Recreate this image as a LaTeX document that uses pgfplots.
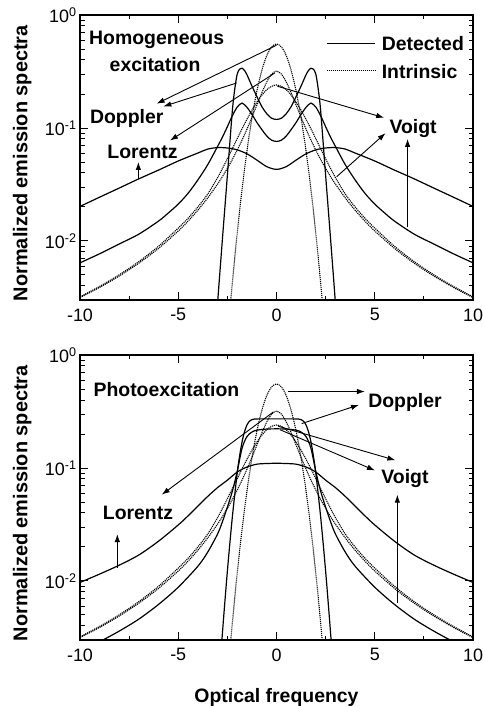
\documentclass[border=0pt]{standalone}
\usepackage{pgfplots}
\pgfplotsset{compat=1.18}
\usepackage{fontspec}
\setmainfont{Liberation Sans}
\usetikzlibrary{arrows.meta}
\newcommand{\lf}{\fontsize{19.5}{19.5}\selectfont\bfseries}
\pgfplotsset{
  mypanel/.style={
    width=393bp, height=285bp, scale only axis,
    xmin=-10, xmax=10, ymin=0.003, ymax=1,
    xtick={-10,-5,0,5,10}, xticklabels={-10,-5,0,5,10},
    minor xtick={-7.5,-2.5,2.5,7.5},
    ytick={0.01,0.1,1},
    yticklabels={10\textsuperscript{-2},10\textsuperscript{-1},10\textsuperscript{0}},
    minor ytick={0.003,0.004,0.005,0.006,0.007,0.008,0.009,0.02,0.03,0.04,0.05,0.06,0.07,0.08,0.09,0.2,0.3,0.4,0.5,0.6,0.7,0.8,0.9},
    tick label style={font=\fontsize{18}{18}\selectfont},
    xticklabel style={yshift=-5bp},
    major tick length=8bp, minor tick length=4.5bp,
    axis line style={line width=1.2bp},
    every tick/.style={line width=0.9bp, black},
    ylabel={Normalized emission spectra},
    ylabel style={font=\fontsize{20}{20}\selectfont\bfseries, at={(axis description cs:-0.147,0.48)}, anchor=center},
  },
}
\tikzset{
  det/.style={black, line width=1.2bp, smooth},
  intr/.style={black, line width=1.1bp, dash pattern=on 1.1bp off 0.9bp, smooth},
  arr/.style={black, line width=0.9bp, -{Latex[length=8bp,width=5.5bp]}},
}
\begin{document}
\begin{tikzpicture}
\useasboundingbox (0,0) rectangle (483bp,706bp);
% ---------------- top panel ----------------
\begin{axis}[ymode=log, mypanel, at={(80bp,406bp)}, anchor=south west]
\addplot[intr] coordinates {(-3,0.0000941)(-2.75,0.000376)(-2.5,0.001335)(-2.25,0.004196)(-2,0.0117)(-1.75,0.02888)(-1.5,0.0633)(-1.25,0.1227)(-1,0.2112)(-0.75,0.322)(-0.5,0.4353)(-0.25,0.5216)(0,0.554)(0.25,0.5216)(0.5,0.4353)(0.75,0.322)(1,0.2112)(1.25,0.1227)(1.5,0.0633)(1.75,0.02888)(2,0.0117)(2.25,0.004196)(2.5,0.001335)(2.75,0.000376)(3,0.0000941)};
\addplot[intr] coordinates {(-10,0.003152)(-9,0.003882)(-8,0.004897)(-7,0.006366)(-6,0.008603)(-5,0.01224)(-4.5,0.01498)(-4,0.01872)(-3.5,0.02402)(-3,0.03183)(-2.75,0.03717)(-2.5,0.0439)(-2.25,0.0525)(-2,0.06366)(-1.75,0.07835)(-1.5,0.09794)(-1.25,0.1242)(-1,0.1592)(-0.75,0.2037)(-0.5,0.2546)(-0.25,0.2996)(0,0.3183)(0.25,0.2996)(0.5,0.2546)(0.75,0.2037)(1,0.1592)(1.25,0.1242)(1.5,0.09794)(1.75,0.07835)(2,0.06366)(2.25,0.0525)(2.5,0.0439)(2.75,0.03717)(3,0.03183)(3.5,0.02402)(4,0.01872)(4.5,0.01498)(5,0.01224)(6,0.008603)(7,0.006366)(8,0.004897)(9,0.003882)(10,0.003152)};
\addplot[intr] coordinates {(-10,0.0032)(-9,0.00396)(-8,0.00502)(-7,0.00657)(-6,0.00898)(-5,0.0130)(-4.5,0.0159)(-4,0.0200)(-3.5,0.0260)(-3,0.0363)(-2.75,0.0438)(-2.5,0.0534)(-2.25,0.0654)(-2,0.0804)(-1.75,0.0985)(-1.5,0.1197)(-1.25,0.1436)(-1,0.1693)(-0.75,0.1949)(-0.5,0.2176)(-0.25,0.2335)(0,0.240)(0.25,0.2335)(0.5,0.2176)(0.75,0.1949)(1,0.1693)(1.25,0.1436)(1.5,0.1197)(1.75,0.0985)(2,0.0804)(2.25,0.0654)(2.5,0.0534)(2.75,0.0438)(3,0.0363)(3.5,0.0260)(4,0.0200)(4.5,0.0159)(5,0.0130)(6,0.00898)(7,0.00657)(8,0.00502)(9,0.00396)(10,0.0032)};
\addplot[det] coordinates {(-3.25,0.0007)(-3,0.0028)(-2.75,0.0105)(-2.5,0.038)(-2.25,0.14)(-2.125,0.22)(-2,0.30)(-1.875,0.332)(-1.75,0.338)(-1.625,0.322)(-1.5,0.295)(-1.25,0.235)(-1,0.19)(-0.75,0.155)(-0.5,0.134)(-0.25,0.122)(0,0.119)(0.25,0.122)(0.5,0.134)(0.75,0.155)(1,0.19)(1.25,0.235)(1.5,0.295)(1.625,0.322)(1.75,0.338)(1.875,0.332)(2,0.30)(2.125,0.22)(2.25,0.14)(2.5,0.038)(2.75,0.0105)(3,0.0028)(3.25,0.0007)};
\addplot[det] coordinates {(-10,0.0064)(-9,0.0077)(-8,0.0094)(-7,0.0115)(-6,0.0150)(-5.5,0.0177)(-5,0.0212)(-4.5,0.0264)(-4,0.0347)(-3.5,0.0473)(-3,0.0686)(-2.75,0.083)(-2.5,0.1026)(-2.25,0.128)(-2,0.153)(-1.75,0.166)(-1.5,0.152)(-1.25,0.132)(-1,0.112)(-0.75,0.097)(-0.5,0.085)(-0.25,0.078)(0,0.076)(0.25,0.078)(0.5,0.085)(0.75,0.097)(1,0.112)(1.25,0.132)(1.5,0.152)(1.75,0.166)(2,0.153)(2.25,0.128)(2.5,0.1026)(2.75,0.083)(3,0.0686)(3.5,0.0473)(4,0.0347)(4.5,0.0264)(5,0.0212)(5.5,0.0177)(6,0.0150)(7,0.0115)(8,0.0094)(9,0.0077)(10,0.0064)};
\addplot[det] coordinates {(-10,0.0202)(-9,0.0244)(-8,0.0294)(-7,0.0355)(-6,0.0424)(-5,0.051)(-4,0.060)(-3.5,0.065)(-3,0.067)(-2.5,0.0665)(-2,0.064)(-1.5,0.059)(-1,0.052)(-0.5,0.0455)(0,0.043)(0.5,0.0455)(1,0.052)(1.5,0.059)(2,0.064)(2.5,0.0665)(3,0.067)(3.5,0.065)(4,0.060)(5,0.051)(6,0.0424)(7,0.0355)(8,0.0294)(9,0.0244)(10,0.0202)};
\draw[black, line width=1.2bp] (axis cs:2.55,0.56) -- (axis cs:5.01,0.56);
\draw[black, line width=1.1bp, dash pattern=on 1.1bp off 0.9bp] (axis cs:2.55,0.32) -- (axis cs:5.01,0.32);
\node[font=\lf, anchor=base west, inner sep=0pt] at (axis cs:5.35,0.489) {Detected};
\node[font=\lf, anchor=base west, inner sep=0pt] at (axis cs:5.35,0.274) {Intrinsic};
\node[font=\lf, anchor=base, inner sep=0pt] at (axis cs:-6.1,0.552) {Homogeneous};
\node[font=\lf, anchor=base, inner sep=0pt] at (axis cs:-6.18,0.316) {excitation};
\node[font=\lf, anchor=base, inner sep=0pt] at (axis cs:-7.62,0.110) {Doppler};
\node[font=\lf, anchor=base, inner sep=0pt] at (axis cs:-6.82,0.054) {Lorentz};
\node[font=\lf, anchor=base, inner sep=0pt] at (axis cs:6.95,0.0888) {Voigt};
\draw[arr] (axis cs:0.0,0.54) -- (axis cs:-6.1,0.164);
\draw[arr] (axis cs:-2.03,0.25) -- (axis cs:-5.76,0.155);
\draw[arr] (axis cs:-0.08,0.307) -- (axis cs:-5.42,0.0774);
\draw[arr] (axis cs:0.05,0.234) -- (axis cs:5.48,0.123);
\draw[arr] (axis cs:3.06,0.037) -- (axis cs:5.55,0.090);
\draw[arr] (axis cs:6.67,0.0132) -- (axis cs:6.67,0.080);
\draw[arr] (axis cs:-7.03,0.0355) -- (axis cs:-7.03,0.050);
\end{axis}
% ---------------- bottom panel ----------------
\begin{axis}[ymode=log, mypanel, at={(80bp,66bp)}, anchor=south west,
  xlabel={Optical frequency}, xlabel style={font=\lf, yshift=-20bp}]
\addplot[intr] coordinates {(-3,0.0000941)(-2.75,0.000376)(-2.5,0.001335)(-2.25,0.004196)(-2,0.0117)(-1.75,0.02888)(-1.5,0.0633)(-1.25,0.1227)(-1,0.2112)(-0.75,0.322)(-0.5,0.4353)(-0.25,0.5216)(0,0.554)(0.25,0.5216)(0.5,0.4353)(0.75,0.322)(1,0.2112)(1.25,0.1227)(1.5,0.0633)(1.75,0.02888)(2,0.0117)(2.25,0.004196)(2.5,0.001335)(2.75,0.000376)(3,0.0000941)};
\addplot[intr] coordinates {(-10,0.003152)(-9,0.003882)(-8,0.004897)(-7,0.006366)(-6,0.008603)(-5,0.01224)(-4.5,0.01498)(-4,0.01872)(-3.5,0.02402)(-3,0.03183)(-2.75,0.03717)(-2.5,0.0439)(-2.25,0.0525)(-2,0.06366)(-1.75,0.07835)(-1.5,0.09794)(-1.25,0.1242)(-1,0.1592)(-0.75,0.2037)(-0.5,0.2546)(-0.25,0.2996)(0,0.3183)(0.25,0.2996)(0.5,0.2546)(0.75,0.2037)(1,0.1592)(1.25,0.1242)(1.5,0.09794)(1.75,0.07835)(2,0.06366)(2.25,0.0525)(2.5,0.0439)(2.75,0.03717)(3,0.03183)(3.5,0.02402)(4,0.01872)(4.5,0.01498)(5,0.01224)(6,0.008603)(7,0.006366)(8,0.004897)(9,0.003882)(10,0.003152)};
\addplot[intr] coordinates {(-10,0.0032)(-9,0.00396)(-8,0.00502)(-7,0.00657)(-6,0.00898)(-5,0.0130)(-4.5,0.0159)(-4,0.0200)(-3.5,0.0260)(-3,0.0363)(-2.75,0.0438)(-2.5,0.0534)(-2.25,0.0654)(-2,0.0804)(-1.75,0.0985)(-1.5,0.1197)(-1.25,0.1436)(-1,0.1693)(-0.75,0.1949)(-0.5,0.2176)(-0.25,0.2335)(0,0.240)(0.25,0.2335)(0.5,0.2176)(0.75,0.1949)(1,0.1693)(1.25,0.1436)(1.5,0.1197)(1.75,0.0985)(2,0.0804)(2.25,0.0654)(2.5,0.0534)(2.75,0.0438)(3,0.0363)(3.5,0.0260)(4,0.0200)(4.5,0.0159)(5,0.0130)(6,0.00898)(7,0.00657)(8,0.00502)(9,0.00396)(10,0.0032)};
\addplot[det] coordinates {(-3.25,0.00019)(-3,0.00088)(-2.75,0.00349)(-2.5,0.0122)(-2.25,0.0364)(-2,0.090)(-1.875,0.1285)(-1.75,0.171)(-1.625,0.2105)(-1.5,0.241)(-1.375,0.2594)(-1.25,0.268)(-1.125,0.271)(-1,0.2718)(-0.5,0.272)(0,0.272)(0.5,0.272)(1,0.2718)(1.125,0.271)(1.25,0.268)(1.375,0.2594)(1.5,0.241)(1.625,0.2105)(1.75,0.171)(1.875,0.1285)(2,0.090)(2.25,0.0364)(2.5,0.0122)(2.75,0.00349)(3,0.00088)(3.25,0.00019)};
\addplot[det] coordinates {(-10,0.0024)(-9,0.0029)(-8,0.0036)(-7,0.0046)(-6,0.0062)(-5,0.0088)(-4,0.0135)(-3.5,0.018)(-3,0.026)(-2.75,0.0335)(-2.5,0.045)(-2.25,0.062)(-2,0.093)(-1.75,0.150)(-1.5,0.190)(-1.25,0.208)(-1,0.216)(-0.5,0.221)(0,0.222)(0.5,0.221)(1,0.216)(1.25,0.208)(1.5,0.190)(1.75,0.150)(2,0.093)(2.25,0.062)(2.5,0.045)(2.75,0.0335)(3,0.026)(3.5,0.018)(4,0.0135)(5,0.0088)(6,0.0062)(7,0.0046)(8,0.0036)(9,0.0029)(10,0.0024)};
\addplot[det] coordinates {(-10,0.0097)(-9,0.0115)(-8,0.0138)(-7,0.0170)(-6,0.0225)(-5,0.0313)(-4.5,0.0377)(-4,0.046)(-3.5,0.056)(-3,0.067)(-2.5,0.078)(-2,0.092)(-1.5,0.102)(-1,0.108)(-0.5,0.1095)(0,0.110)(0.5,0.1095)(1,0.108)(1.5,0.102)(2,0.092)(2.5,0.078)(3,0.067)(3.5,0.056)(4,0.046)(4.5,0.0377)(5,0.0313)(6,0.0225)(7,0.0170)(8,0.0138)(9,0.0115)(10,0.0097)};
\node[font=\lf, anchor=base west, inner sep=0pt] at (axis cs:-9.32,0.432) {Photoexcitation};
\node[font=\lf, anchor=base, inner sep=0pt] at (axis cs:6.54,0.340) {Doppler};
\node[font=\lf, anchor=base, inner sep=0pt] at (axis cs:6.54,0.0733) {Voigt};
\node[font=\lf, anchor=base, inner sep=0pt] at (axis cs:-7.05,0.0351) {Lorentz};
\draw[arr] (axis cs:0.6,0.475) -- (axis cs:4.5,0.475);
\draw[arr] (axis cs:1.28,0.247) -- (axis cs:4.2,0.362);
\draw[arr] (axis cs:0.09,0.234) -- (axis cs:6.05,0.117);
\draw[arr] (axis cs:0.18,0.218) -- (axis cs:5.01,0.095);
\draw[arr] (axis cs:-0.16,0.313) -- (axis cs:-5.84,0.058);
\draw[arr] (axis cs:-8.1,0.0131) -- (axis cs:-8.1,0.026);
\draw[arr] (axis cs:6.15,0.0064) -- (axis cs:6.15,0.058);
\end{axis}
\end{tikzpicture}
\end{document}
